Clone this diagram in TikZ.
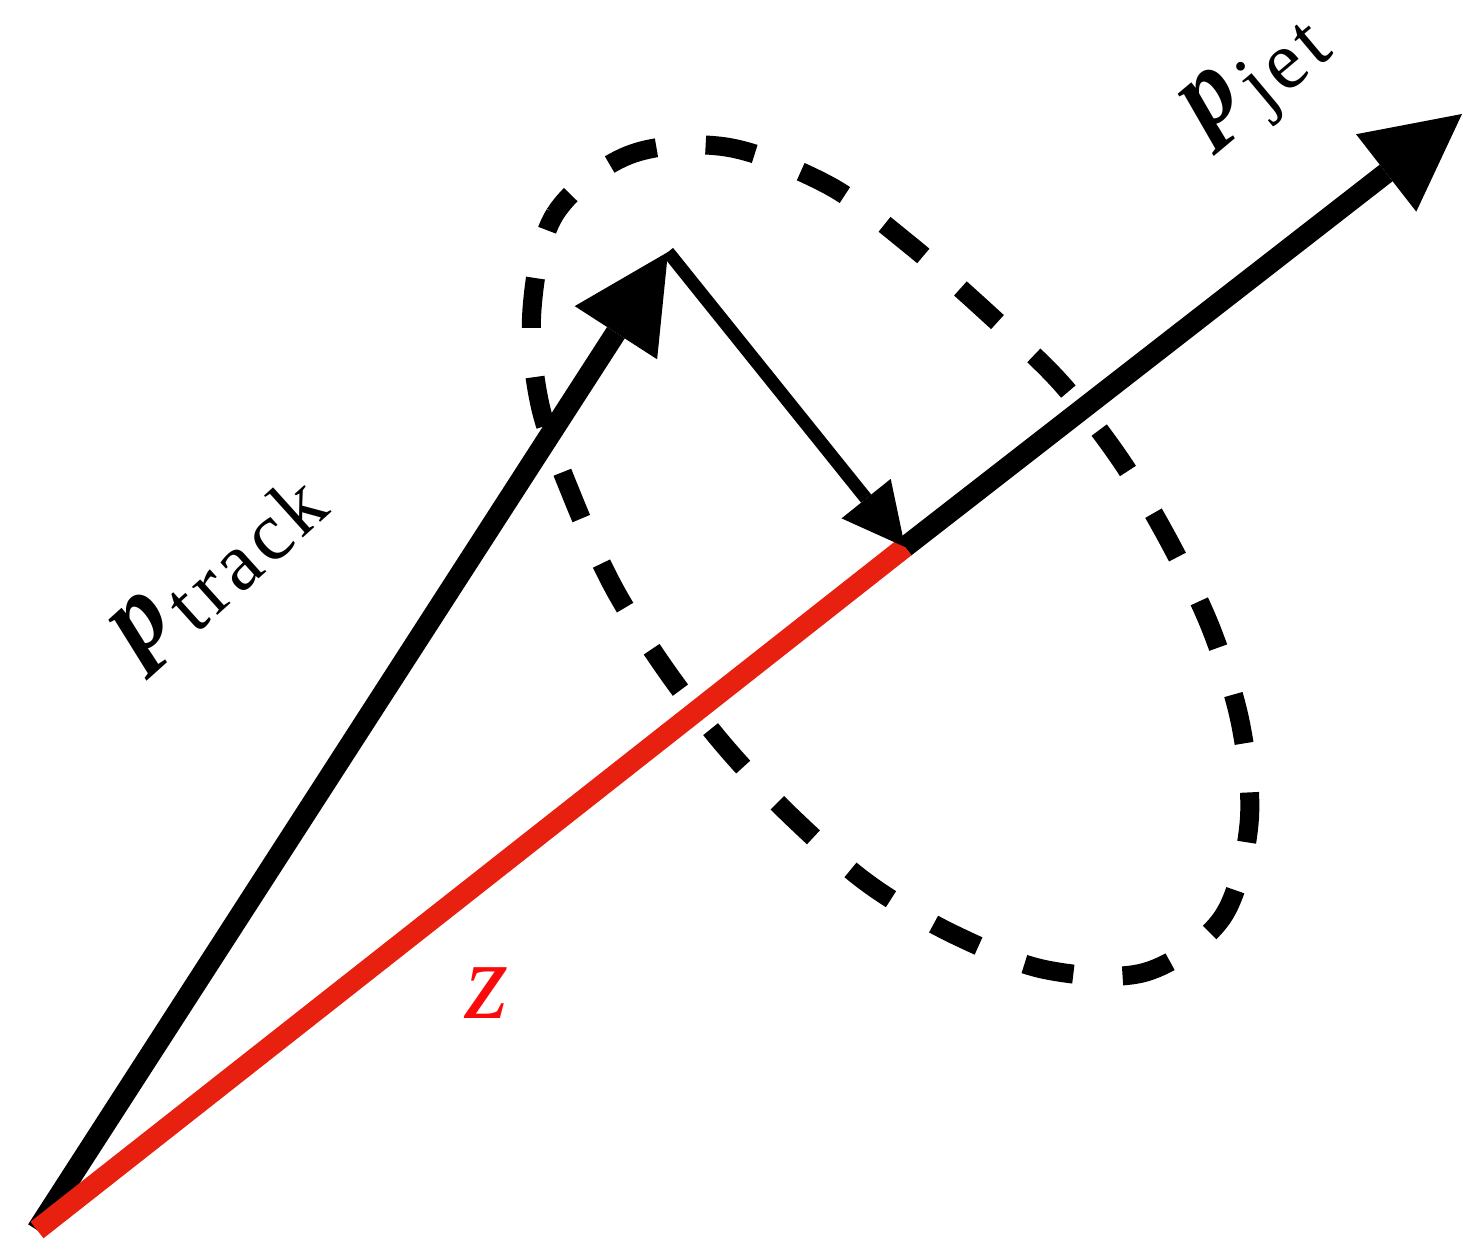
\documentclass[tikz,border=0pt]{standalone}
\usepackage{fontspec}
\newfontfamily\labfont{Liberation Serif}
\newfontfamily\subfont[LetterSpace=6]{Liberation Serif}
\usetikzlibrary{arrows.meta}
\definecolor{zline}{RGB}{232,32,16}
\definecolor{zlabel}{RGB}{250,10,10}
\newcommand{\vecsym}[1]{{\labfont\bfseries\itshape p}\kern0.06em{\subfont\fontsize{7.8}{9}\selectfont\raisebox{-0.55ex}{#1}}}
\begin{document}
\begin{tikzpicture}[x=0.01cm,y=-0.01cm,
  bigvec/.style={line width=0.21cm,-{Triangle[length=0.96cm,width=0.98cm,line width=0pt]}},
  perpvec/.style={line width=0.13cm,-{Triangle[length=0.62cm,width=0.63cm,line width=0pt]}},
  zseg/.style={line width=0.21cm,draw=zline},
  cone/.style={line width=0.19cm,dash pattern=on 0.50cm off 0.493cm,dash phase=0.25cm},
  lab/.style={scale=3.0,inner sep=0pt}]
\useasboundingbox (0,0) rectangle (1463,1249);
% dashed loop
\draw[cone] plot[smooth cycle,tension=0.55] coordinates {
 (532,309) (555,214) (629,155) (726,147) (828,185) (910,245) (993,318)
 (1060,382) (1120,459) (1170,543) (1212,631) (1241,726) (1249,824)
 (1222,918) (1146,972) (1047,970) (955,935) (870,885) (795,820)
 (728,750) (668,673) (615,590) (574,501) (540,405)};
% points
\coordinate (O) at (37,1230);
\coordinate (J) at (905,547);
\coordinate (T) at (1462,114);
\coordinate (P) at (668,252);
% vectors
\draw[bigvec] (O) -- (P);
\draw[bigvec] (J) -- (T);
\draw[zseg] (O) -- (J);
\draw[perpvec] (P) -- (J);
% labels
\node[lab,rotate=40] (pjet) at (1260,82) {\vecsym{jet}};
\node[lab,rotate=42] (ptrack) at (219,568) {\vecsym{track}};
\node[lab,scale=1.05,text=zlabel] (zl) at (487,993) {\labfont\itshape z};
\end{tikzpicture}
\end{document}
